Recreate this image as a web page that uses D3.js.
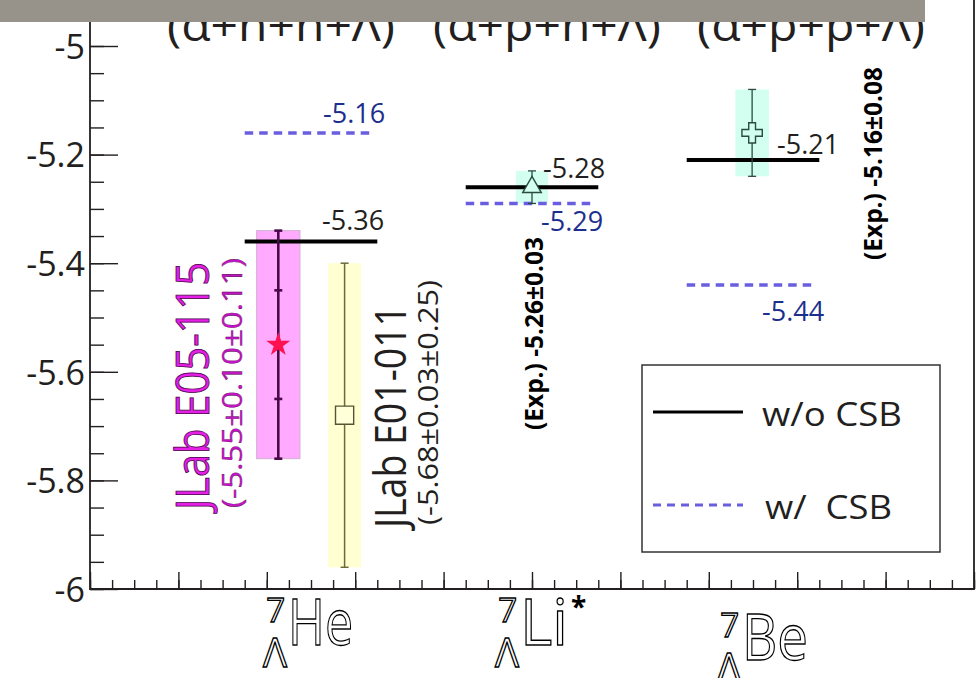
<!DOCTYPE html>
<html>
<head>
<meta charset="utf-8">
<script src="https://cdn.jsdelivr.net/npm/d3@7"></script>
<style>
  body { margin: 0; background: #fff; }
  svg { display: block; font-family: "Open Sans", "Noto Sans", sans-serif; }
</style>
</head>
<body>
<svg id="chart"></svg>
<script>
// hypernuclei along the x axis (category position in axis units)
const nuclei = ["He", "Li", "Be"];
const nucleiPos = [2.5, 5, 7.5];
const clusterTitles = ["(α+n+n+Λ)", "(α+p+n+Λ)", "(α+p+p+Λ)"];

// calculated binding energies (MeV)
const woCSB = [-5.36, -5.26, -5.21];
const woCSBText = ["-5.36", "-5.28", "-5.21"];
const wCSB = [-5.16, -5.29, -5.44];
const wCSBText = ["-5.16", "-5.29", "-5.44"];

// experimental points
const expPos = [2.13, 2.88, 5.0, 7.49];
const expValue = [-5.55, -5.68, -5.26, -5.16];
const expStat = [0.10, 0.03, 0.03, 0.08];
const expSyst = [0.11, 0.25, 0, 0];

const yTicks = [-6, -5.8, -5.6, -5.4, -5.2, -5];

const width = 980, height = 678;
const ink = "#231f20";
const blue = "#6a5ee0";
const navy = "#1c2f8c";

const svg = d3.select("#chart").attr("width", width).attr("height", height);

const x = d3.scaleLinear().domain([0, 10]).range([90, 974]);
const y = d3.scaleLinear().domain([-6, -5]).range([589, 46]);

// axes
const yMajor = d3.axisLeft(y).tickValues(yTicks).tickSize(-28).tickSizeOuter(0)
  .tickFormat(d => String(+d.toFixed(1)));
const yMinor = d3.axisLeft(y).tickValues(d3.range(-6, -4.99, 0.05)).tickSize(-14)
  .tickSizeOuter(0).tickFormat("");
const xMajor = d3.axisBottom(x).tickValues(d3.range(0, 10.01, 1)).tickSize(-17)
  .tickSizeOuter(0).tickFormat("");
const xMinor = d3.axisBottom(x).tickValues(d3.range(0, 10.01, 0.25)).tickSize(-9)
  .tickSizeOuter(0).tickFormat("");

function styleAxis(g) {
  g.select(".domain").remove();
  g.selectAll("line").attr("stroke", ink).attr("stroke-width", 1.4);
}

svg.append("g").attr("transform", `translate(${x(0)},0)`).call(yMinor).call(styleAxis);
svg.append("g").attr("transform", `translate(${x(0)},0)`).call(yMajor).call(styleAxis)
  .call(g => g.selectAll("text")
    .attr("x", -5).attr("dy", "0.36em")
    .attr("fill", ink).attr("font-size", 34)
    .attr("font-family", "'Open Sans', sans-serif"));
svg.append("g").attr("transform", `translate(0,${y(-6)})`).call(xMinor).call(styleAxis);
svg.append("g").attr("transform", `translate(0,${y(-6)})`).call(xMajor).call(styleAxis);

// frame
svg.append("path")
  .attr("d", `M${x(0)},0V${y(-6)}H${x(10)}V0`)
  .attr("fill", "none").attr("stroke", ink).attr("stroke-width", 1.8);

// experimental bands (stat + syst)
const bandWidth = [0.49, 0.37, 0.36, 0.38];
const bandFill = ["#ffaaff", "#ffffd2", "#d2fff0", "#d2fff0"];
const barColor = ["#4a0a4a", "#6b6b3a", "#2b4a40", "#2b4a40"];
const barWidth = [2.6, 1.5, 1.3, 1.3];

svg.selectAll("rect.band")
  .data(expValue)
  .join("rect")
  .attr("class", "band")
  .attr("x", (d, i) => x(expPos[i] - bandWidth[i] / 2))
  .attr("width", (d, i) => x(bandWidth[i]) - x(0))
  .attr("y", (d, i) => y(d + expStat[i] + expSyst[i]))
  .attr("height", (d, i) => y(d - expStat[i] - expSyst[i]) - y(d + expStat[i] + expSyst[i]))
  .attr("fill", (d, i) => bandFill[i])
  .attr("stroke", (d, i) => i === 0 ? "#d0b0d0" : "none")
  .attr("stroke-width", 1);

// calculated lines
const halfLen = 0.75;
svg.selectAll("line.wo")
  .data(woCSB)
  .join("line")
  .attr("class", "wo")
  .attr("x1", (d, i) => x(nucleiPos[i] - halfLen))
  .attr("x2", (d, i) => x(nucleiPos[i] + halfLen))
  .attr("y1", d => y(d)).attr("y2", d => y(d))
  .attr("stroke", "#000").attr("stroke-width", 4);

svg.selectAll("line.w")
  .data(wCSB)
  .join("line")
  .attr("class", "w")
  .attr("x1", (d, i) => x(nucleiPos[i] - halfLen))
  .attr("x2", (d, i) => x(nucleiPos[i] + halfLen) - 5)
  .attr("y1", d => y(d)).attr("y2", d => y(d))
  .attr("stroke", blue).attr("stroke-width", 3.5)
  .attr("stroke-dasharray", "8.5,6");

// error bars
const cap = 4;
expValue.forEach((v, i) => {
  const cx = x(expPos[i]);
  const lo = v - expStat[i] - expSyst[i];
  const hi = v + expStat[i] + expSyst[i];
  const g = svg.append("g").attr("stroke", barColor[i]).attr("stroke-width", barWidth[i]);
  g.append("line").attr("x1", cx).attr("x2", cx).attr("y1", y(hi)).attr("y2", y(lo));
  [lo, hi].forEach(e => g.append("line")
    .attr("x1", cx - cap).attr("x2", cx + cap).attr("y1", y(e)).attr("y2", y(e)));
  if (expSyst[i] > 0 && expStat[i] >= 0.05) {
    [v - expStat[i], v + expStat[i]].forEach(e => g.append("line")
      .attr("x1", cx - cap).attr("x2", cx + cap).attr("y1", y(e)).attr("y2", y(e)));
  }
});

// markers
const markerType = [d3.symbolStar, d3.symbolSquare, d3.symbolTriangle, d3.symbolCross];
const markerSize = [180, 330, 150, 230];
const markerFill = ["#ff1050", "#ffffd8", "#d2fff0", "#d2fff0"];
const markerStroke = ["none", "#555533", "#2b4a40", "#2b4a40"];
svg.selectAll("path.marker")
  .data(expValue)
  .join("path")
  .attr("class", "marker")
  .attr("transform", (d, i) => `translate(${x(expPos[i])},${y(d)})`)
  .attr("d", (d, i) => d3.symbol(markerType[i], markerSize[i])())
  .attr("fill", (d, i) => markerFill[i])
  .attr("stroke", (d, i) => markerStroke[i])
  .attr("stroke-width", 1.4);

// value labels
const woDx = [11, 11, 24], woDy = [-11, -9, -6];
const wDx = [12, 9, 9], wDy = [-10, 28, 36];
svg.selectAll("text.wo")
  .data(woCSBText)
  .join("text")
  .attr("class", "wo")
  .attr("x", (d, i) => x(nucleiPos[i]) + woDx[i])
  .attr("y", (d, i) => y(woCSB[i]) + woDy[i])
  .attr("font-size", 27).attr("fill", ink)
  .text(d => d);
svg.selectAll("text.w")
  .data(wCSBText)
  .join("text")
  .attr("class", "w")
  .attr("x", (d, i) => x(nucleiPos[i]) + wDx[i])
  .attr("y", (d, i) => y(wCSB[i]) + wDy[i])
  .attr("font-size", 27).attr("fill", navy)
  .text(d => d);

// rotated experiment labels
function vText(tx, ty, str, size, len, opts = {}) {
  const t = svg.append("text")
    .attr("transform", `translate(${tx},${ty}) rotate(-90)`)
    .attr("font-size", size)
    .attr("textLength", len).attr("lengthAdjust", "spacingAndGlyphs")
    .attr("fill", opts.fill || ink)
    .attr("font-weight", opts.bold ? "bold" : null)
    .text(str);
  if (opts.stroke) t.attr("stroke", opts.stroke).attr("stroke-width", opts.sw || 0.6);
  return t;
}
vText(209, 510, "JLab E05-115", 45, 248, { fill: "#e61fe6", stroke: "#4a004a", sw: 0.8 });
vText(242, 508, "(-5.55±0.10±0.11)", 27, 250, { fill: "#c415c4", stroke: "#4a004a", sw: 0.3 });
vText(406, 528, "JLab E01-011", 44, 223);
vText(438, 525, "(-5.68±0.03±0.25)", 27, 245);
vText(543, 430, "(Exp.) -5.26±0.03", 25, 193, { bold: true, fill: "#000" });
vText(882, 260, "(Exp.) -5.16±0.08", 25, 193, { bold: true, fill: "#000" });

// cluster titles at the top
const titleDx = [-30, 15, 58];
svg.selectAll("text.title")
  .data(clusterTitles)
  .join("text")
  .attr("class", "title")
  .attr("x", (d, i) => x(nucleiPos[i]) + titleDx[i])
  .attr("y", 41)
  .attr("text-anchor", "middle")
  .attr("font-size", 44)
  .attr("fill", ink)
  .attr("textLength", 228).attr("lengthAdjust", "spacingAndGlyphs")
  .text(d => d);

// gray header strip
svg.append("rect").attr("x", 0).attr("y", 0).attr("width", 925).attr("height", 22)
  .attr("fill", "#97938a");

// x category labels (hollow letters)
const labDx = [-23, -12, -11], labY = [645, 645, 660];
const labLen = [65, 48, 66];
nuclei.forEach((n, i) => {
  const g = svg.append("g")
    .attr("transform", `translate(${x(nucleiPos[i]) + labDx[i]},${labY[i]})`)
    .attr("fill", "#fff").attr("stroke", "#000").attr("stroke-width", 1.3);
  g.append("text").attr("font-size", 64)
    .attr("textLength", labLen[i]).attr("lengthAdjust", "spacingAndGlyphs")
    .text(n);
  g.append("text").attr("x", -3).attr("y", -23).attr("text-anchor", "end")
    .attr("font-size", 33).text("7");
  g.append("text").attr("x", -1).attr("y", 22).attr("text-anchor", "end")
    .attr("font-size", 40)
    .attr("textLength", 24).attr("lengthAdjust", "spacingAndGlyphs")
    .text("Λ");
  if (n === "Li") {
    g.append("text").attr("x", labLen[i] + 3).attr("y", -28)
      .attr("font-size", 28).attr("font-weight", "bold")
      .attr("fill", "#000").attr("stroke", "none").text("*");
  }
});

// legend
const legend = svg.append("g").attr("transform", "translate(642,365)");
legend.append("rect").attr("width", 298).attr("height", 187)
  .attr("fill", "#fff").attr("stroke", "#333").attr("stroke-width", 1.5);
const legendItems = ["w/o CSB", "w/  CSB"];
const legendY = [47, 140];
legend.selectAll("line")
  .data(legendItems)
  .join("line")
  .attr("x1", 11).attr("x2", 101)
  .attr("y1", (d, i) => legendY[i]).attr("y2", (d, i) => legendY[i])
  .attr("stroke", (d, i) => i === 0 ? "#000" : blue)
  .attr("stroke-width", 2.8)
  .attr("stroke-dasharray", (d, i) => i === 0 ? null : "8,6");
legend.selectAll("text")
  .data(legendItems)
  .join("text")
  .attr("x", (d, i) => i === 0 ? 120 : 123)
  .attr("y", (d, i) => legendY[i] + 14)
  .attr("font-size", 33).attr("fill", ink)
  .attr("textLength", (d, i) => i === 0 ? 140 : 127)
  .attr("lengthAdjust", "spacingAndGlyphs")
  .attr("xml:space", "preserve")
  .text(d => d);
</script>
</body>
</html>
